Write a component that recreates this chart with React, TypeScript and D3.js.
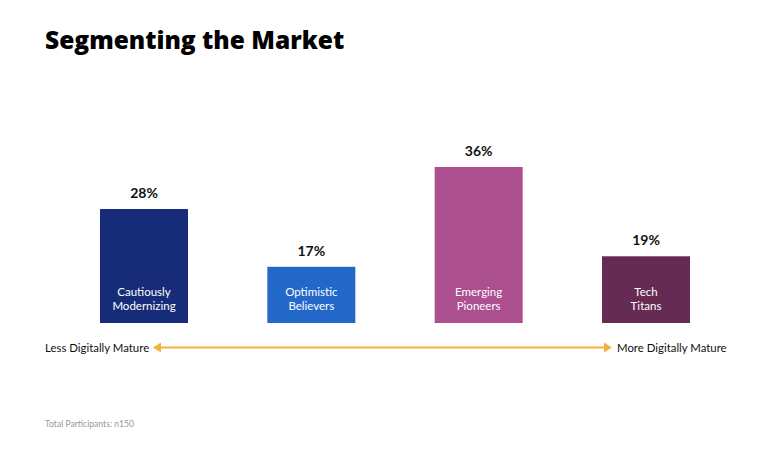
import React from "react";
import * as d3 from "d3";

const categories = ["Cautiously\nModernizing", "Optimistic\nBelievers", "Emerging\nPioneers", "Tech\nTitans"];
const values = [28, 17, 36, 19];
const colors = ["#172c78", "#2368c9", "#ab4f8f", "#652b53"];
const leftLabel = "Less Digitally Mature";
const rightLabel = "More Digitally Mature";

export default function App() {
  const W = 768, H = 449;
  const cx = d3.scalePoint<number>().domain(d3.range(categories.length)).range([144, 646]);
  const bw = 88;
  const y = d3.scaleLinear().domain([6.3, 36]).range([323, 167]);
  const font = "Lato, 'Open Sans', sans-serif";
  return (
    <svg width={W} height={H} style={{ position: "absolute", left: 0, top: 0, background: "#fff" }}>
      <text x={45} y={49} fontFamily="'Open Sans', sans-serif" fontWeight={800} fontSize={24.5} fill="#000">Segmenting the Market</text>
      {values.map((v, i) => {
        const c = cx(i)!;
        const lines = categories[i].split("\n");
        return (
          <g key={i}>
            <rect x={c - bw / 2} y={y(v)} width={bw} height={y(6.3) - y(v)} fill={colors[i]} />
            <text x={c} y={y(v) - 11} textAnchor="middle" fontFamily={font} fontWeight={700} fontSize={14} fill="#111">{v}%</text>
            {lines.map((l, j) => (
              <text key={j} x={c} y={296 + j * 14} textAnchor="middle" fontFamily={font} fontSize={11.5} fill="#fff">{l}</text>
            ))}
          </g>
        );
      })}
      <line x1={158} x2={607} y1={347.5} y2={347.5} stroke="#f3b03c" strokeWidth={2} />
      <path d="M153,347.5 L161,342.5 L161,352.5 Z" fill="#f3b03c" />
      <path d="M612,347.5 L604,342.5 L604,352.5 Z" fill="#f3b03c" />
      <text x={45} y={351.5} fontFamily={font} fontSize={11.4} fill="#111">{leftLabel}</text>
      <text x={617} y={351.5} fontFamily={font} fontSize={11.4} fill="#111">{rightLabel}</text>
      <text x={45} y={427} fontFamily={font} fontSize={8.6} fill="#999">Total Participants: n150</text>
    </svg>
  );
}
